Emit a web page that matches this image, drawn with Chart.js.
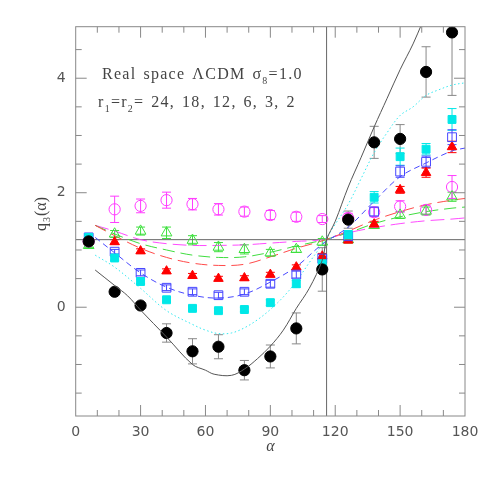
<!DOCTYPE html>
<html>
<head>
<meta charset="utf-8">
<script src="https://cdn.jsdelivr.net/npm/chart.js@4.4.1/dist/chart.umd.min.js"></script>
<style>
  html, body { margin:0; padding:0; background:#fff; }
  #wrap { width:491px; height:491px; }
</style>
</head>
<body>
<div id="wrap"><canvas id="q3Chart" width="491" height="491"></canvas></div>
<script>
// measured triangle opening angles (degrees)
var alphaPts = [6, 18, 30, 42, 54, 66, 78, 90, 102, 114, 126, 138, 150, 162, 174];

// simulation points, one list per scale
var q3Magenta = [1.15, 1.71, 1.77, 1.87, 1.80, 1.71, 1.67, 1.61, 1.58, 1.54, 1.56, 1.66, 1.76, 1.70, 2.10];
var errMagenta = [0.06, 0.23, 0.12, 0.14, 0.10, 0.10, 0.08, 0.08, 0.08, 0.06, 0.08, 0.08, 0.10, 0.08, 0.20];
var q3Green   = [1.08, 1.28, 1.33, 1.30, 1.17, 1.05, 1.01, 0.95, 1.01, 1.14, 1.18, 1.43, 1.61, 1.68, 1.93];
var errGreen  = [0.04, 0.06, 0.07, 0.10, 0.08, 0.08, 0.08, 0.06, 0.05, 0.06, 0.05, 0.05, 0.06, 0.07, 0.08];
var q3Red     = [1.15, 1.14, 0.98, 0.63, 0.55, 0.50, 0.51, 0.57, 0.70, 0.89, 1.17, 1.45, 2.05, 2.35, 2.80];
var errRed    = [0.03, 0.04, 0.04, 0.04, 0.04, 0.04, 0.04, 0.04, 0.04, 0.05, 0.05, 0.05, 0.06, 0.08, 0.10];
var q3Blue    = [1.22, 0.97, 0.60, 0.34, 0.27, 0.21, 0.27, 0.41, 0.57, 0.85, 1.24, 1.67, 2.37, 2.54, 2.97];
var errBlue   = [0.04, 0.04, 0.05, 0.05, 0.05, 0.05, 0.05, 0.06, 0.06, 0.08, 0.08, 0.08, 0.10, 0.10, 0.13];
var q3Cyan    = [1.22, 0.86, 0.45, 0.13, -0.02, -0.06, -0.04, 0.08, 0.41, 0.76, 1.26, 1.92, 2.63, 2.76, 3.28];
var errCyan   = [0.04, 0.04, 0.04, 0.04, 0.04, 0.04, 0.04, 0.05, 0.06, 0.08, 0.08, 0.10, 0.15, 0.10, 0.19];
var q3Black   = [1.15, 0.27, 0.03, -0.45, -0.77, -0.69, -1.10, -0.86, -0.37, 0.66, 1.53, 2.88, 2.94, 4.11, 4.80];
var errBlack  = [0.04, 0.05, 0.05, 0.16, 0.22, 0.21, 0.17, 0.20, 0.27, 0.38, 0.15, 0.28, 0.25, 0.44, 1.10];

// model curves
var alphaCurve = [9, 18, 30, 42, 54, 66, 78, 90, 102, 114, 126, 138, 150, 162, 174, 180];
var curveMagenta = [1.43, 1.33, 1.18, 1.11, 1.08, 1.08, 1.09, 1.12, 1.15, 1.18, 1.30, 1.39, 1.46, 1.51, 1.54, 1.56];
var curveGreen   = [1.43, 1.28, 1.11, 1.00, 0.91, 0.87, 0.88, 0.96, 1.07, 1.17, 1.30, 1.46, 1.58, 1.67, 1.73, 1.75];
var curveRed     = [1.43, 1.25, 1.03, 0.87, 0.77, 0.73, 0.75, 0.88, 1.03, 1.16, 1.33, 1.52, 1.67, 1.79, 1.87, 1.90];
var curveBlue    = [1.22, 0.95, 0.60, 0.35, 0.21, 0.16, 0.23, 0.44, 0.71, 1.10, 1.40, 1.85, 2.28, 2.52, 2.73, 2.78];

var alphaCyan = [9, 18, 30, 42, 54, 60, 66, 72, 78, 84, 90, 96, 102, 108, 114, 120, 126, 132, 138, 144, 150, 156, 162, 168, 174, 180];
var curveCyan = [0.91, 0.70, 0.33, -0.06, -0.30, -0.40, -0.46, -0.45, -0.36, -0.22, -0.04, 0.18, 0.45, 0.78, 1.10, 1.45, 1.80, 2.25, 2.70, 3.05, 3.35, 3.50, 3.70, 3.80, 3.88, 3.92];

var alphaBlackCurve = [9, 18, 24, 30, 42, 54, 60, 64, 72, 78, 84, 90, 96, 102, 108, 114, 116, 120, 126, 132, 138, 144, 150, 156, 160, 164];
var curveBlack = [0.65, 0.38, 0.20, -0.05, -0.52, -1.00, -1.10, -1.17, -1.19, -1.08, -0.90, -0.68, -0.40, -0.02, 0.33, 0.82, 1.18, 1.50, 2.10, 2.62, 3.15, 3.65, 4.15, 4.60, 4.95, 5.30];

// reference lines
var alphaEq = 116;
var q3Eq = 1.18;

var xMin = 0, xMax = 180, yMin = -1.9, yMax = 4.9;

function pts(xs, ys) {
    return xs.map(function (x, i) { return { x: x, y: ys[i] }; });
}

function markers(ys, errs, color, errColor, style, radius, filled) {
    return { data: pts(alphaPts, ys), errors: errs, errColor: errColor,
        pointStyle: style, pointRadius: radius, pointBorderWidth: 1,
        pointBackgroundColor: filled ? color : 'rgba(0,0,0,0)', pointBorderColor: color,
        showLine: false, pointHoverRadius: radius };
}

function curve(xs, ys, color, dash) {
    return { data: pts(xs, ys), showLine: true, borderColor: color, borderWidth: 1,
        borderDash: dash, pointRadius: 0, tension: 0.35, fill: false };
}

// error bars under the markers
var errorBars = {
    id: 'errorBars',
    beforeDatasetsDraw: function (chart) {
        var ctx = chart.ctx, xs = chart.scales.x, ys = chart.scales.y, a = chart.chartArea;
        ctx.save();
        ctx.beginPath(); ctx.rect(a.left, a.top, a.right - a.left, a.bottom - a.top); ctx.clip();
        ctx.lineWidth = 1;
        chart.data.datasets.forEach(function (ds) {
            if (!ds.errors) return;
            ctx.strokeStyle = ds.errColor;
            ds.data.forEach(function (p, i) {
                var px = xs.getPixelForValue(p.x);
                var y1 = ys.getPixelForValue(p.y + ds.errors[i]);
                var y2 = ys.getPixelForValue(p.y - ds.errors[i]);
                ctx.beginPath();
                ctx.moveTo(px, y1); ctx.lineTo(px, y2);
                ctx.moveTo(px - 4.5, y1); ctx.lineTo(px + 4.5, y1);
                ctx.moveTo(px - 4.5, y2); ctx.lineTo(px + 4.5, y2);
                ctx.stroke();
            });
        });
        ctx.restore();
    }
};

function drawRich(ctx, parts, x, y, size, spacing) {
    var cx = x;
    parts.forEach(function (p) {
        var s = p[1] ? size * 0.62 : size;
        ctx.font = s + 'px "Liberation Serif"';
        var dy = p[1] ? size * 0.3 : 0;
        for (var i = 0; i < p[0].length; i++) {
            var ch = p[0][i];
            ctx.fillText(ch, cx, y + dy);
            cx += ctx.measureText(ch).width + (ch === ' ' ? spacing * 2.2 : spacing);
        }
    });
}

// frame, inward ticks, labels
var frame = {
    id: 'frame',
    afterDraw: function (chart) {
        var ctx = chart.ctx, a = chart.chartArea, xs = chart.scales.x, ys = chart.scales.y;
        ctx.save();
        ctx.strokeStyle = '#888';
        ctx.lineWidth = 1;
        ctx.strokeRect(a.left, a.top, a.right - a.left, a.bottom - a.top);
        ctx.beginPath();
        for (var v = 10; v < xMax; v += 10) {
            var px = xs.getPixelForValue(v), len = (v % 30 === 0) ? 11 : 6;
            ctx.moveTo(px, a.bottom); ctx.lineTo(px, a.bottom - len);
            ctx.moveTo(px, a.top); ctx.lineTo(px, a.top + len);
        }
        for (var w = -1.5; w < yMax; w += 0.5) {
            var py = ys.getPixelForValue(w), l2 = (Math.abs(w / 2 - Math.round(w / 2)) < 1e-6) ? 11 : 6;
            ctx.moveTo(a.left, py); ctx.lineTo(a.left + l2, py);
            ctx.moveTo(a.right, py); ctx.lineTo(a.right - l2, py);
        }
        ctx.stroke();

        ctx.fillStyle = '#444';
        ctx.textBaseline = 'alphabetic';
        ctx.textAlign = 'left';
        drawRich(ctx, [['Real space \u039bCDM \u03c3', 0], ['8', 1], ['=1.0', 0]], 102, 79, 16, 1.3);
        drawRich(ctx, [['r', 0], ['1', 1], ['=r', 0], ['2', 1], ['= 24, 18, 12, 6, 3, 2', 0]], 98, 107, 16, 1.3);

        // axis titles
        ctx.textAlign = 'center';
        ctx.font = 'italic 16px "Liberation Serif"';
        ctx.fillText('\u03b1', (a.left + a.right) / 2, 451);
        ctx.save();
        ctx.translate(46, 214);
        ctx.rotate(-Math.PI / 2);
        ctx.textAlign = 'left';
        var t1 = 'q', t2 = '3', t3 = '(\u03b1)';
        ctx.font = '16px "Liberation Serif"';
        var w1 = ctx.measureText(t1).width, w3 = ctx.measureText(t3).width;
        ctx.font = '10px "Liberation Serif"';
        var w2 = ctx.measureText(t2).width;
        var sx = -(w1 + w2 + w3 + 2) / 2;
        ctx.font = '16px "Liberation Serif"';
        ctx.fillText(t1, sx, 0);
        ctx.font = '10px "Liberation Serif"';
        ctx.fillText(t2, sx + w1 + 1, 4);
        ctx.font = '16px "Liberation Serif"';
        ctx.fillText(t3, sx + w1 + w2 + 2, 0);
        ctx.restore();
        ctx.restore();
    }
};

var datasets = [
    curve(alphaBlackCurve, curveBlack, '#555555', []),
    markers(q3Black, errBlack, '#000000', '#888888', 'circle', 5.6, true),
    markers(q3Cyan, errCyan, '#00e8e8', '#00e8e8', 'rect', 5.6, true),
    markers(q3Blue, errBlue, '#4646ff', '#4646ff', 'rect', 6.2, false),
    markers(q3Red, errRed, '#ff0000', '#ff0000', 'triangle', 5.5, true),
    markers(q3Green, errGreen, '#3ee03e', '#3ee03e', 'triangle', 6.2, false),
    markers(q3Magenta, errMagenta, '#ff3cff', '#ff3cff', 'circle', 5.6, false),
    curve(alphaCyan, curveCyan, '#30e8f0', [1.5, 2.5]),
    curve(alphaCurve, curveBlue, '#4a4aff', [6, 4]),
    curve(alphaCurve, curveRed, '#ff4a4a', [12, 6]),
    curve(alphaCurve, curveGreen, '#40dd40', [12, 6]),
    curve(alphaCurve, curveMagenta, '#ff4aff', [14, 6]),
    { data: [{ x: alphaEq, y: yMin }, { x: alphaEq, y: yMax }], showLine: true,
      borderColor: '#666', borderWidth: 1, pointRadius: 0 },
    { data: [{ x: xMin, y: q3Eq }, { x: xMax, y: q3Eq }], showLine: true,
      borderColor: '#666', borderWidth: 1, pointRadius: 0 }
];

new Chart(document.getElementById('q3Chart'), {
    type: 'scatter',
    data: { datasets: datasets },
    options: {
        responsive: false, animation: false, devicePixelRatio: 1,
        layout: { padding: { left: 0, top: 26.7, right: 26, bottom: 0 } },
        plugins: { legend: { display: false }, tooltip: { enabled: false } },
        scales: {
            x: { type: 'linear', min: xMin, max: xMax,
                 grid: { display: false, drawTicks: false }, border: { display: false },
                 afterFit: function (s) { s.height = 75; },
                 ticks: { stepSize: 10, padding: 8, color: '#555', maxRotation: 0, autoSkip: false,
                          font: { family: 'DejaVu Sans', size: 14 },
                          callback: function (v) { return v % 30 === 0 ? v : ''; } } },
            y: { type: 'linear', min: yMin, max: yMax,
                 grid: { display: false, drawTicks: false }, border: { display: false },
                 afterFit: function (s) { s.width = 75.7; },
                 ticks: { stepSize: 0.5, padding: 10, color: '#555', autoSkip: false,
                          font: { family: 'DejaVu Sans', size: 14 },
                          callback: function (v) { return Math.abs(v / 2 - Math.round(v / 2)) < 1e-6 ? Math.round(v) : ''; } } }
        }
    },
    plugins: [errorBars, frame]
});
</script>
</body>
</html>
